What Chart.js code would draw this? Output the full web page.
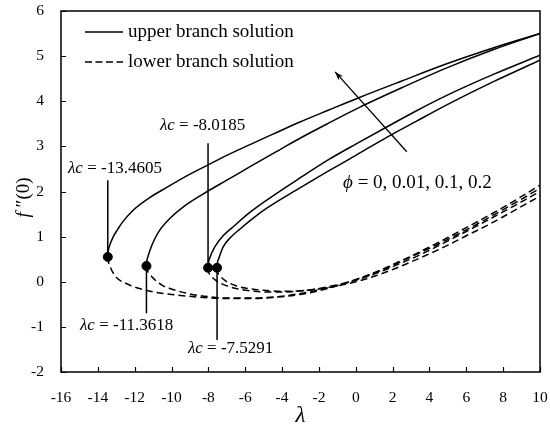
<!DOCTYPE html>
<html><head><meta charset="utf-8">
<script src="https://cdn.jsdelivr.net/npm/chart.js@4"></script>
<style>html,body{margin:0;padding:0;background:#fff}#wrap{width:550px;height:430px}</style>
</head><body><div id="wrap"><canvas id="c" width="550" height="430"></canvas></div>
<script>
// ---- data ----
const phiValues = ['0', '0.01', '0.1', '0.2'];
const criticalLambda = [-7.5291, -8.0185, -11.3618, -13.4605];
const criticalF = [0.31, 0.31, 0.35, 0.55];

// upper branch (solid)
const upperLambda_phi0   = [-7.5291, -7.51, -7.45, -7.19, -6.8, -6.28, -5.6, -4.83, -3.03, -1.5, 0, 1.68, 3.3, 4.94, 7.5, 10];
const upperF_phi0        = [0.31, 0.42, 0.5, 0.78, 0.98, 1.17, 1.4, 1.63, 2.08, 2.45, 2.8, 3.2, 3.56, 3.92, 4.44, 4.91];
const upperLambda_phi001 = [-8.0185, -7.998, -7.95, -7.64, -7.2, -6.65, -5.8, -4.83, -3.03, -1.5, 0, 1.68, 3.3, 4.94, 7.5, 10];
const upperF_phi001      = [0.31, 0.42, 0.5, 0.78, 1.02, 1.22, 1.52, 1.81, 2.3, 2.7, 3.05, 3.43, 3.79, 4.13, 4.6, 5.02];
const upperLambda_phi01  = [-11.3618, -11.34, -11.3, -11.17, -10.95, -10.63, -10.1, -9.36, -8.06, -7, -5.74, -4.11, -3.03, -1.5, 0.23, 2.5, 4.94, 7.45, 10];
const upperF_phi01       = [0.35, 0.47, 0.53, 0.7, 0.92, 1.15, 1.4, 1.66, 2.0, 2.25, 2.55, 2.93, 3.18, 3.51, 3.87, 4.3, 4.74, 5.14, 5.5];
const upperLambda_phi02  = [-13.4605, -13.435, -13.36, -13.16, -12.94, -12.7, -12.07, -11.2, -10.26, -9.2, -8.06, -7, -5.74, -4.5, -3.03, -1.5, 0.23, 2.5, 4.94, 7.45, 10];
const upperF_phi02       = [0.55, 0.68, 0.8, 1.0, 1.15, 1.3, 1.59, 1.86, 2.09, 2.34, 2.58, 2.8, 3.04, 3.27, 3.54, 3.8, 4.09, 4.45, 4.83, 5.18, 5.5];

// lower branch (dashed)
const lowerLambda_phi0   = [-7.5291, -7.5, -7.4, -7.1, -6.5, -6, -5, -4, -3, -2, -1, 0, 1, 2, 3, 4, 5, 6, 7, 8, 9, 10];
const lowerF_phi0        = [0.31, 0.22, 0.15, 0.03, -0.09, -0.14, -0.19, -0.21, -0.2, -0.16, -0.09, 0.0, 0.12, 0.27, 0.44, 0.62, 0.81, 1.02, 1.22, 1.44, 1.67, 1.9];
const lowerLambda_phi001 = [-8.0185, -7.99, -7.9, -7.6, -7, -6.5, -5.5, -4.5, -3.5, -2.5, -1.5, -0.5, 0.5, 1.5, 2.5, 3.5, 4.5, 5.5, 6.5, 7.5, 8.5, 10];
const lowerF_phi001      = [0.31, 0.22, 0.15, 0.03, -0.09, -0.15, -0.21, -0.23, -0.22, -0.18, -0.11, -0.02, 0.1, 0.25, 0.42, 0.6, 0.8, 1.01, 1.22, 1.44, 1.66, 2.0];
const lowerLambda_phi01  = [-11.3618, -11.33, -11.2, -11.0, -10.5, -10, -9, -8, -7, -5.5, -4, -3, -2, -1, 0, 1, 2, 3, 4, 5, 6, 7, 8, 9, 10];
const lowerF_phi01       = [0.35, 0.27, 0.18, 0.08, -0.08, -0.16, -0.27, -0.33, -0.36, -0.36, -0.32, -0.26, -0.18, -0.08, 0.05, 0.19, 0.36, 0.55, 0.74, 0.94, 1.15, 1.37, 1.6, 1.83, 2.07];
const lowerLambda_phi02  = [-13.4605, -13.43, -13.3, -13.0, -12.4, -11.4, -10, -8.5, -7, -5.5, -4, -3, -2, -1, 0, 1, 2, 3, 4, 5, 6, 7, 8, 9, 10];
const lowerF_phi02       = [0.55, 0.45, 0.3, 0.1, -0.05, -0.19, -0.28, -0.34, -0.37, -0.37, -0.33, -0.28, -0.2, -0.09, 0.04, 0.2, 0.38, 0.57, 0.77, 0.98, 1.2, 1.42, 1.65, 1.89, 2.14];

// axis ticks
const xTicks = [-16, -14, -12, -10, -8, -6, -4, -2, 0, 2, 4, 6, 8, 10];
const yTicks = [-2, -1, 0, 1, 2, 3, 4, 5, 6];

// annotation anchors (data units)
const leaderTopF    = [0.31, 3.07, 0.35, 2.25];
const leaderBottomF = [-1.29, 0.31, -0.7, 0.55];
const labelLambda   = [-9.11, -10.63, -14.97, -15.62];
const labelF        = [-1.47, 3.47, -0.96, 2.52];
const arrowTail = [2.77, 2.88];
const arrowHead = [-1.12, 4.65];
const phiLabelPos = [-0.69, 2.18];

function pts(xs, ys) { return xs.map((x, i) => ({x: x, y: ys[i]})); }

const upperSets = [[upperLambda_phi0, upperF_phi0], [upperLambda_phi001, upperF_phi001], [upperLambda_phi01, upperF_phi01], [upperLambda_phi02, upperF_phi02]];
const lowerSets = [[lowerLambda_phi0, lowerF_phi0], [lowerLambda_phi001, lowerF_phi001], [lowerLambda_phi01, lowerF_phi01], [lowerLambda_phi02, lowerF_phi02]];

const datasets = [];
datasets.push({
  label: 'critical points', type: 'scatter', data: pts(criticalLambda, criticalF),
  pointRadius: 4.5, pointBackgroundColor: '#000', pointBorderColor: '#000', showLine: false, order: 0
});
upperSets.forEach((s, i) => datasets.push({
  label: 'upper φ=' + phiValues[i], data: pts(s[0], s[1]), borderColor: '#000', borderWidth: 1.5,
  pointRadius: 0, cubicInterpolationMode: 'monotone', fill: false, order: 1
}));
lowerSets.forEach((s, i) => datasets.push({
  label: 'lower φ=' + phiValues[i], data: pts(s[0], s[1]), borderColor: '#000', borderWidth: 1.5,
  borderDash: [7, 4], pointRadius: 0, cubicInterpolationMode: 'monotone', fill: false, order: 1
}));

const SERIF = "'Liberation Serif', 'Times New Roman', serif";

function drawRich(ctx, parts, x, y, size) {
  let cx = x;
  parts.forEach(p => {
    ctx.font = (p.i ? 'italic ' : '') + size + 'px ' + SERIF;
    ctx.fillText(p.t, cx, y);
    cx += ctx.measureText(p.t).width;
  });
}

const deco = {
  id: 'deco',
  afterDatasetsDraw(chart) {
    const ctx = chart.ctx, xs = chart.scales.x, ys = chart.scales.y, a = chart.chartArea;
    ctx.save();
    ctx.strokeStyle = '#000'; ctx.fillStyle = '#000';
    // frame
    ctx.lineWidth = 1.5;
    ctx.strokeRect(a.left, a.top, a.right - a.left, a.bottom - a.top);
    // inward ticks
    ctx.lineWidth = 1.2;
    ctx.beginPath();
    xTicks.forEach(v => { const px = Math.round(xs.getPixelForValue(v)) + 0.5; ctx.moveTo(px, a.bottom); ctx.lineTo(px, a.bottom - 5); });
    yTicks.forEach(v => { const py = Math.round(ys.getPixelForValue(v)) + 0.5; ctx.moveTo(a.left, py); ctx.lineTo(a.left + 5, py); });
    ctx.stroke();
    // leader lines
    ctx.lineWidth = 1.5;
    ctx.beginPath();
    criticalLambda.forEach((l, i) => {
      const px = xs.getPixelForValue(l);
      ctx.moveTo(px, ys.getPixelForValue(leaderTopF[i]));
      ctx.lineTo(px, ys.getPixelForValue(leaderBottomF[i]));
    });
    ctx.stroke();
    // labels λc
    ctx.textBaseline = 'middle'; ctx.textAlign = 'left';
    criticalLambda.forEach((l, i) => {
      drawRich(ctx, [{t: 'λc', i: true}, {t: ' = ' + l.toFixed(4)}], xs.getPixelForValue(labelLambda[i]), ys.getPixelForValue(labelF[i]), 17);
    });
    // arrow
    const tx = xs.getPixelForValue(arrowTail[0]), ty = ys.getPixelForValue(arrowTail[1]);
    const hx = xs.getPixelForValue(arrowHead[0]), hy = ys.getPixelForValue(arrowHead[1]);
    ctx.lineWidth = 1.3;
    ctx.beginPath(); ctx.moveTo(tx, ty); ctx.lineTo(hx, hy); ctx.stroke();
    const ang = Math.atan2(hy - ty, hx - tx), L = 9;
    ctx.beginPath();
    ctx.moveTo(hx, hy);
    ctx.lineTo(hx - L * Math.cos(ang - 0.35), hy - L * Math.sin(ang - 0.35));
    ctx.lineTo(hx - L * 0.7 * Math.cos(ang), hy - L * 0.7 * Math.sin(ang));
    ctx.lineTo(hx - L * Math.cos(ang + 0.35), hy - L * Math.sin(ang + 0.35));
    ctx.closePath(); ctx.fill();
    // phi label
    drawRich(ctx, [{t: 'ϕ', i: true}, {t: ' = ' + phiValues.join(', ')}], xs.getPixelForValue(phiLabelPos[0]), ys.getPixelForValue(phiLabelPos[1]), 19);
    // legend
    const lx = a.left + 24, ly1 = a.top + 21, ly2 = a.top + 51;
    ctx.lineWidth = 1.5;
    ctx.beginPath(); ctx.moveTo(lx, ly1); ctx.lineTo(lx + 38, ly1); ctx.stroke();
    ctx.setLineDash([7, 3.5]);
    ctx.beginPath(); ctx.moveTo(lx, ly2); ctx.lineTo(lx + 38, ly2); ctx.stroke();
    ctx.setLineDash([]);
    ctx.font = '19px ' + SERIF;
    ctx.fillText('upper branch solution', lx + 43, ly1);
    ctx.fillText('lower branch solution', lx + 43, ly2);
    // y title
    ctx.save();
    ctx.translate(24, (a.top + a.bottom) / 2 + 6);
    ctx.rotate(-Math.PI / 2);
    ctx.textAlign = 'left';
    const parts = [{t: 'f', i: true}, {t: ' ″(0)'}];
    let w = 0;
    parts.forEach(p => { ctx.font = (p.i ? 'italic ' : '') + '19px ' + SERIF; w += ctx.measureText(p.t).width; });
    drawRich(ctx, parts, -w / 2, 0, 19);
    ctx.restore();
    ctx.restore();
  }
};

new Chart(document.getElementById('c'), {
  type: 'line',
  data: { datasets: datasets },
  options: {
    responsive: false, animation: false, devicePixelRatio: 1,
    layout: { autoPadding: false, padding: { top: 11, right: 10, left: 0, bottom: 0 } },
    plugins: { legend: { display: false }, tooltip: { enabled: false } },
    scales: {
      x: {
        type: 'linear', min: -16, max: 10,
        afterBuildTicks: s => { s.ticks = xTicks.map(v => ({value: v})); },
        afterFit: s => { s.height = 58; s.paddingLeft = 0; s.paddingRight = 0; s.paddingTop = 0; s.paddingBottom = 0; },
        grid: { display: false, drawTicks: false }, border: { display: false },
        ticks: { color: '#000', padding: 17, maxRotation: 0, font: { family: SERIF, size: 15.5 } },
        title: { display: true, text: 'λ', color: '#000', padding: { top: 0, bottom: 0 }, font: { family: SERIF, size: 23, style: 'italic' } }
      },
      y: {
        type: 'linear', min: -2, max: 6,
        afterBuildTicks: s => { s.ticks = yTicks.map(v => ({value: v})); },
        afterFit: s => { s.width = 61; s.paddingLeft = 0; s.paddingRight = 0; s.paddingTop = 0; s.paddingBottom = 0; },
        grid: { display: false, drawTicks: false }, border: { display: false },
        ticks: { color: '#000', padding: 17, font: { family: SERIF, size: 15.5 } }
      }
    }
  },
  plugins: [deco]
});
</script></body></html>
